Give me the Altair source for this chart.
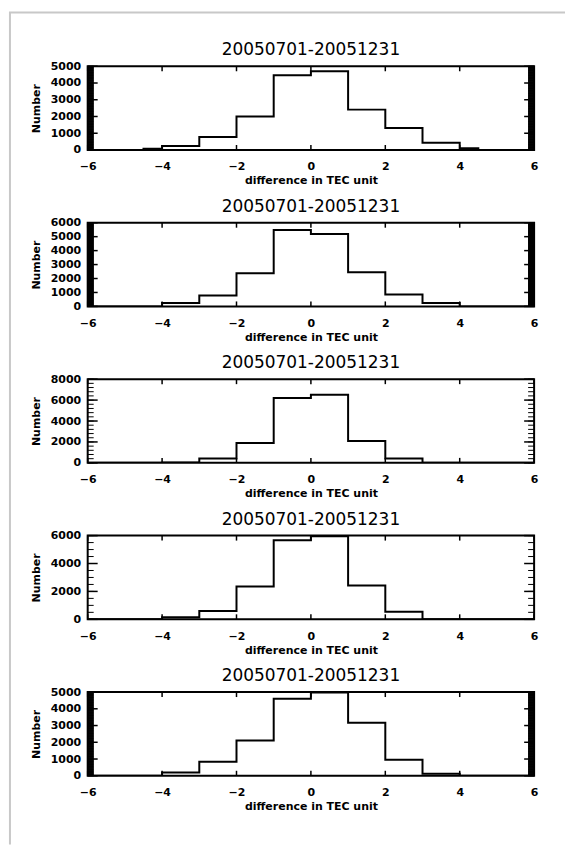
import altair as alt
import numpy as np
import pandas as pd

TITLE = "20050701-20051231"
X_TITLE = "difference in TEC unit"
Y_TITLE = "Number"

# Histogram steps: left edge of each step and the count held until the next edge
p1_edges = [-6, -4.5, -4, -3, -2, -1, 0, 1, 2, 3, 4, 4.5, 6]
p1_counts = [0, 80, 235, 780, 2000, 4470, 4700, 2410, 1310, 430, 100, 0, 0]
p2_edges = [-6, -4, -3, -2, -1, 0, 1, 2, 3, 4, 6]
p2_counts = [0, 250, 790, 2380, 5480, 5190, 2450, 860, 240, 0, 0]
p3_edges = [-6, -4, -3, -2, -1, 0, 1, 2, 3, 4, 6]
p3_counts = [0, 40, 420, 1900, 6200, 6500, 2090, 420, 20, 0, 0]
p4_edges = [-6, -4, -3, -2, -1, 0, 1, 2, 3, 6]
p4_counts = [0, 140, 600, 2350, 5660, 5950, 2420, 540, 0, 0]
p5_edges = [-6, -4, -3, -2, -1, 0, 1, 2, 3, 4, 6]
p5_counts = [0, 196, 830, 2100, 4600, 4980, 3170, 950, 120, 0, 0]

y_max = [5000, 6000, 8000, 6000, 5000]
y_major = [
    [0, 1000, 2000, 3000, 4000, 5000],
    [0, 1000, 2000, 3000, 4000, 5000, 6000],
    [0, 2000, 4000, 6000, 8000],
    [0, 2000, 4000, 6000],
    [0, 1000, 2000, 3000, 4000, 5000],
]
y_minor_step = [25, 25, 400, 500, 25]
x_ticks = [-6, -4, -2, 0, 2, 4, 6]

W, H = 448, 84
GAP = 73
FONT = "DejaVu Sans"
EDGE = 0.01  # left / top edge of the plot area, in pixels
MINOR_LEN, MAJOR_LEN, XTICK_LEN = 6, 10, 5


def panel(edges, counts, ymax, majors, minor_step):
    xs = alt.Scale(domain=[-6, 6], nice=False, zero=False)
    ys = alt.Scale(domain=[0, ymax], nice=False, zero=False)
    ax_x = alt.Axis(values=x_ticks, title=X_TITLE, format="d")
    ax_y = alt.Axis(values=majors, title=Y_TITLE, format="d")
    df = pd.DataFrame({"x": edges, "y": counts})
    line = alt.Chart(df).mark_line(
        interpolate="step-after", color="black", strokeWidth=2, clip=True
    ).encode(
        x=alt.X("x:Q", scale=xs, axis=ax_x),
        y=alt.Y("y:Q", scale=ys, axis=ax_y),
    )
    minor_df = pd.DataFrame({"y": np.arange(0, ymax + 1, minor_step)})
    major_df = pd.DataFrame({"y": majors})
    xt_df = pd.DataFrame({"x": x_ticks})
    layers = [line]
    # inward y ticks on the left and right edges
    for x0, x1, d, sw in ((EDGE, MINOR_LEN, minor_df, 1), (W - MINOR_LEN, W, minor_df, 1),
                          (EDGE, MAJOR_LEN, major_df, 1.5), (W - MAJOR_LEN, W, major_df, 1.5)):
        layers.append(
            alt.Chart(d).mark_rule(color="black", strokeWidth=sw)
            .encode(y=alt.Y("y:Q", scale=ys, axis=ax_y), x=alt.value(x0), x2=alt.value(x1))
        )
    # inward x ticks on the top and bottom edges
    for y0, y1 in ((EDGE, XTICK_LEN), (H - XTICK_LEN, H)):
        layers.append(
            alt.Chart(xt_df).mark_rule(color="black", strokeWidth=1.5)
            .encode(x=alt.X("x:Q", scale=xs, axis=ax_x), y=alt.value(y0), y2=alt.value(y1))
        )
    return alt.layer(*layers).properties(
        width=W,
        height=H,
        title=alt.TitleParams(TITLE, frame="group", offset=7, baseline="alphabetic", dy=19,
                              font=FONT, fontSize=17, fontWeight="normal", color="black"),
    )


# light grey page frame, drawn in an empty strip below the last panel
fdf = pd.DataFrame({"a": [0]})
frame = alt.layer(
    alt.Chart(fdf).mark_rule(color="#c8c8c8", strokeWidth=2, clip=False)
    .encode(x=alt.value(-78), y=alt.value(-839), y2=alt.value(-4)),
    alt.Chart(fdf).mark_rule(color="#c8c8c8", strokeWidth=2, clip=False)
    .encode(x=alt.value(-79), x2=alt.value(479), y=alt.value(-839)),
).properties(width=W, height=1, view=alt.ViewBackground(stroke=None))

panels = [
    panel(p1_edges, p1_counts, y_max[0], y_major[0], y_minor_step[0]),
    panel(p2_edges, p2_counts, y_max[1], y_major[1], y_minor_step[1]),
    panel(p3_edges, p3_counts, y_max[2], y_major[2], y_minor_step[2]),
    panel(p4_edges, p4_counts, y_max[3], y_major[3], y_minor_step[3]),
    panel(p5_edges, p5_counts, y_max[4], y_major[4], y_minor_step[4]),
    frame,
]

chart = alt.vconcat(*panels, spacing=GAP, bounds="flush").properties(
    padding={"left": 8, "top": 10, "right": 0, "bottom": 0},
    background="white",
).configure_view(
    stroke="black", strokeWidth=2
).configure_axis(
    grid=False, ticks=False, domain=False,
    labelFont=FONT, labelFontWeight="bold", labelFontSize=11, labelColor="black",
    titleFont=FONT, titleFontWeight="bold", titleFontSize=11, titleColor="black",
).configure_axisX(
    labelPadding=11, titlePadding=3, labelFlush=False
).configure_axisY(
    labelPadding=7, titlePadding=9
)

chart.save("out.html", embed_options={"renderer": "svg", "actions": False})
